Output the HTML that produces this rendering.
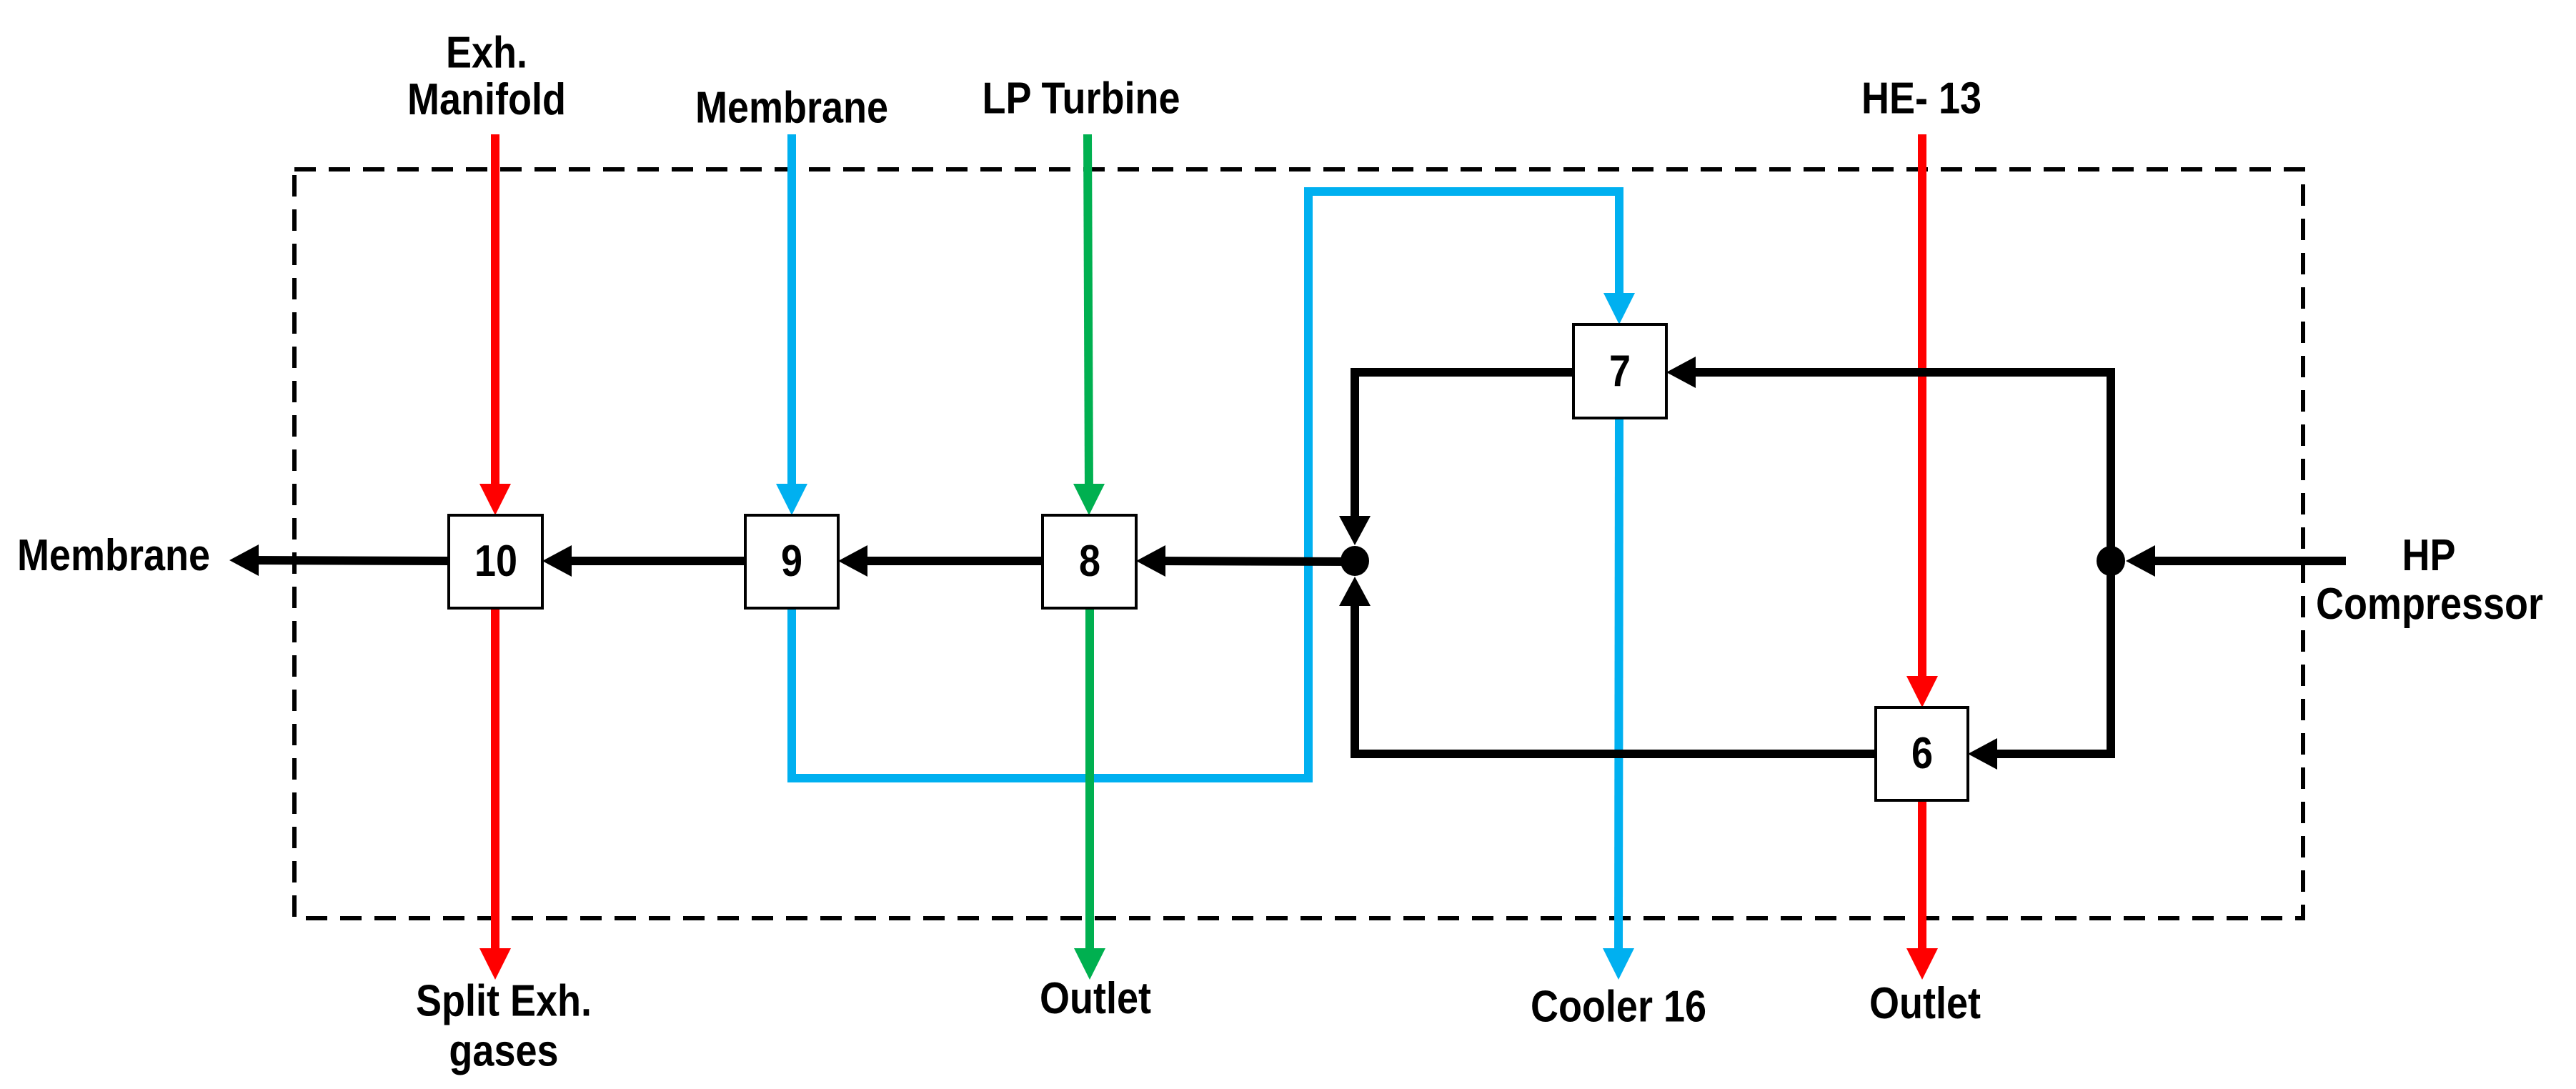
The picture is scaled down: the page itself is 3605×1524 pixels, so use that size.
<!DOCTYPE html>
<html><head><meta charset="utf-8"><style>
html,body{margin:0;padding:0;background:#fff}
svg{display:block}
text{font-family:"Liberation Sans",Arial,sans-serif;font-weight:bold;font-size:54px;fill:#000;text-anchor:middle}
</style></head><body>
<svg width="3605" height="1524" viewBox="0 0 3605 1524" xmlns="http://www.w3.org/2000/svg">
<rect x="412" y="237" width="2811" height="1048" fill="none" stroke="#000" stroke-width="6" stroke-dasharray="30,18"/>

<line x1="693" y1="188" x2="693" y2="690" stroke="#f00" stroke-width="12"/>
<polygon points="671,677 715,677 693,721" fill="#f00"/>
<line x1="693" y1="851" x2="693" y2="1340" stroke="#f00" stroke-width="12"/>
<polygon points="671,1327 715,1327 693,1371" fill="#f00"/>

<line x1="1108" y1="188" x2="1108" y2="690" stroke="#00b0f0" stroke-width="12"/>
<polygon points="1086,677 1130,677 1108,721" fill="#00b0f0"/>
<polyline points="1108,851 1108,1089 1831,1089 1831,268 2266,268 2266,420" fill="none" stroke="#00b0f0" stroke-width="12"/>
<polygon points="2244,410 2288,410 2266,454" fill="#00b0f0"/>
<line x1="2266" y1="585" x2="2265" y2="1340" stroke="#00b0f0" stroke-width="12"/>
<polygon points="2243,1327 2287,1327 2265,1371" fill="#00b0f0"/>

<line x1="1522" y1="188" x2="1524" y2="690" stroke="#00b050" stroke-width="12"/>
<polygon points="1502,677 1546,677 1524,721" fill="#00b050"/>
<line x1="1525" y1="851" x2="1525" y2="1340" stroke="#00b050" stroke-width="12"/>
<polygon points="1503,1327 1547,1327 1525,1371" fill="#00b050"/>

<line x1="2690" y1="188" x2="2690" y2="960" stroke="#f00" stroke-width="12"/>
<polygon points="2668,946 2712,946 2690,990" fill="#f00"/>
<line x1="2690" y1="1120" x2="2690" y2="1340" stroke="#f00" stroke-width="12"/>
<polygon points="2668,1327 2712,1327 2690,1371" fill="#f00"/>

<line x1="628" y1="785" x2="350" y2="784" stroke="#000" stroke-width="12"/>
<polygon points="321,784 362,762 362,806" fill="#000"/>
<line x1="1043" y1="785" x2="790" y2="785" stroke="#000" stroke-width="12"/>
<polygon points="759,785 800,763 800,807" fill="#000"/>
<line x1="1459" y1="785" x2="1205" y2="785" stroke="#000" stroke-width="12"/>
<polygon points="1173,785 1214,763 1214,807" fill="#000"/>
<line x1="1896" y1="786" x2="1620" y2="785" stroke="#000" stroke-width="12"/>
<polygon points="1590,785 1631,763 1631,807" fill="#000"/>

<polyline points="2202,521 1896,521 1896,730" fill="none" stroke="#000" stroke-width="12"/>
<polygon points="1874,722 1918,722 1896,763" fill="#000"/>
<polyline points="2625,1055 1896,1055 1896,840" fill="none" stroke="#000" stroke-width="12"/>
<polygon points="1874,848 1918,848 1896,807" fill="#000"/>
<polyline points="2954,785 2954,521 2365,521" fill="none" stroke="#000" stroke-width="12"/>
<polygon points="2332,521 2373,499 2373,543" fill="#000"/>
<polyline points="2954,785 2954,1055 2785,1055" fill="none" stroke="#000" stroke-width="12"/>
<polygon points="2754,1055 2795,1033 2795,1077" fill="#000"/>
<line x1="3283" y1="785" x2="3005" y2="785" stroke="#000" stroke-width="12"/>
<polygon points="2975,785 3016,763 3016,807" fill="#000"/>
<ellipse cx="1896" cy="785" rx="20" ry="21" fill="#000"/>
<ellipse cx="2954" cy="785" rx="20" ry="21" fill="#000"/>

<g fill="#fff" stroke="#000" stroke-width="4">
<rect x="628" y="721" width="131" height="130"/>
<rect x="1043" y="721" width="130" height="130"/>
<rect x="1459" y="721" width="131" height="130"/>
<rect x="2202" y="454" width="130" height="131"/>
<rect x="2625" y="990" width="129" height="130"/>
</g>
<g transform="scale(1,1.15)">
<text x="694" y="701">10</text>
<text x="1108" y="701">9</text>
<text x="1525" y="701">8</text>
<text x="2267" y="470">7</text>
<text x="2690" y="935">6</text>

<text x="681" y="82">Exh.</text>
<text x="681" y="139">Manifold</text>
<text x="1108" y="149">Membrane</text>
<text x="1513" y="138">LP Turbine</text>
<text x="2689" y="138">HE- 13</text>
<text x="159" y="694">Membrane</text>
<text x="3399" y="694">HP</text>
<text x="3400" y="753">Compressor</text>
<text x="705" y="1236">Split Exh.</text>
<text x="705" y="1297">gases</text>
<text x="1533" y="1233">Outlet</text>
<text x="2265" y="1243">Cooler 16</text>
<text x="2694" y="1239">Outlet</text>
</g>
</svg>
</body></html>
